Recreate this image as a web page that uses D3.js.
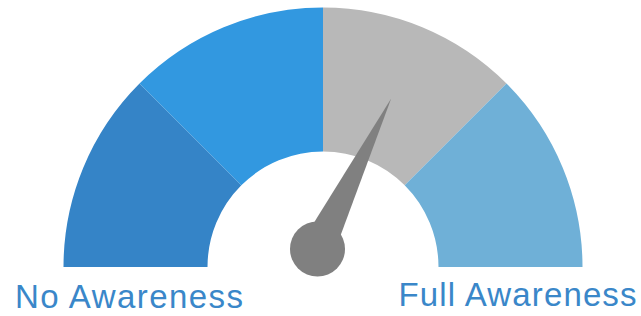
<!DOCTYPE html>
<html><head><meta charset="utf-8">
<script src="https://cdn.jsdelivr.net/npm/d3@7"></script>
<style>html,body{margin:0;padding:0;background:#fff;}svg{display:block;}</style>
</head><body>
<svg id="chart" width="641" height="316"></svg>
<script>
const segments = ["Segment 1", "Segment 2", "Segment 3", "Segment 4"];
const segmentValues = [25, 25, 25, 25];
const segmentColors = ["#3584c7", "#3298e0", "#b8b8b8", "#6fb0d7"];
const needleValue = [64.5];
const endLabels = ["No Awareness", "Full Awareness"];

const svg = d3.select("#chart");
const cx = 323, cy = 267, R = 259.5, r = 115.5;
const g = svg.append("g").attr("transform", `translate(${cx},${cy})`);

const pie = d3.pie().sort(null).value(d => d)
  .startAngle(-Math.PI / 2).endAngle(Math.PI / 2);
const arc = d3.arc().innerRadius(r).outerRadius(R);
g.selectAll("path.seg").data(pie(segmentValues)).join("path")
  .attr("class", "seg").attr("d", arc)
  .attr("fill", (d, i) => segmentColors[i]);

const angle = d3.scaleLinear().domain([0, 100]).range([-90, 90]);
const px = -5.5, py = -18;
const needle = g.append("g").attr("transform", `translate(${px},${py})`);
needle.append("circle").attr("r", 27.5).attr("fill", "#808080");
const L = 167.5, hw = 17;
needle.append("path")
  .attr("d", `M${-hw},0 L0,${-L} L${hw},0 Z`)
  .attr("fill", "#808080")
  .attr("transform", `rotate(${angle(needleValue[0])})`);

svg.append("text").attr("x", 15).attr("y", 308)
  .attr("font-family", "Liberation Sans, Arial, sans-serif")
  .attr("font-size", 33).attr("fill", "#3a87c9")
  .attr("textLength", 228).attr("lengthAdjust", "spacing")
  .text(endLabels[0]);
svg.append("text").attr("x", 398.5).attr("y", 306)
  .attr("font-family", "Liberation Sans, Arial, sans-serif")
  .attr("font-size", 33).attr("fill", "#3a87c9")
  .attr("textLength", 238).attr("lengthAdjust", "spacing")
  .text(endLabels[1]);
</script>
</body></html>
